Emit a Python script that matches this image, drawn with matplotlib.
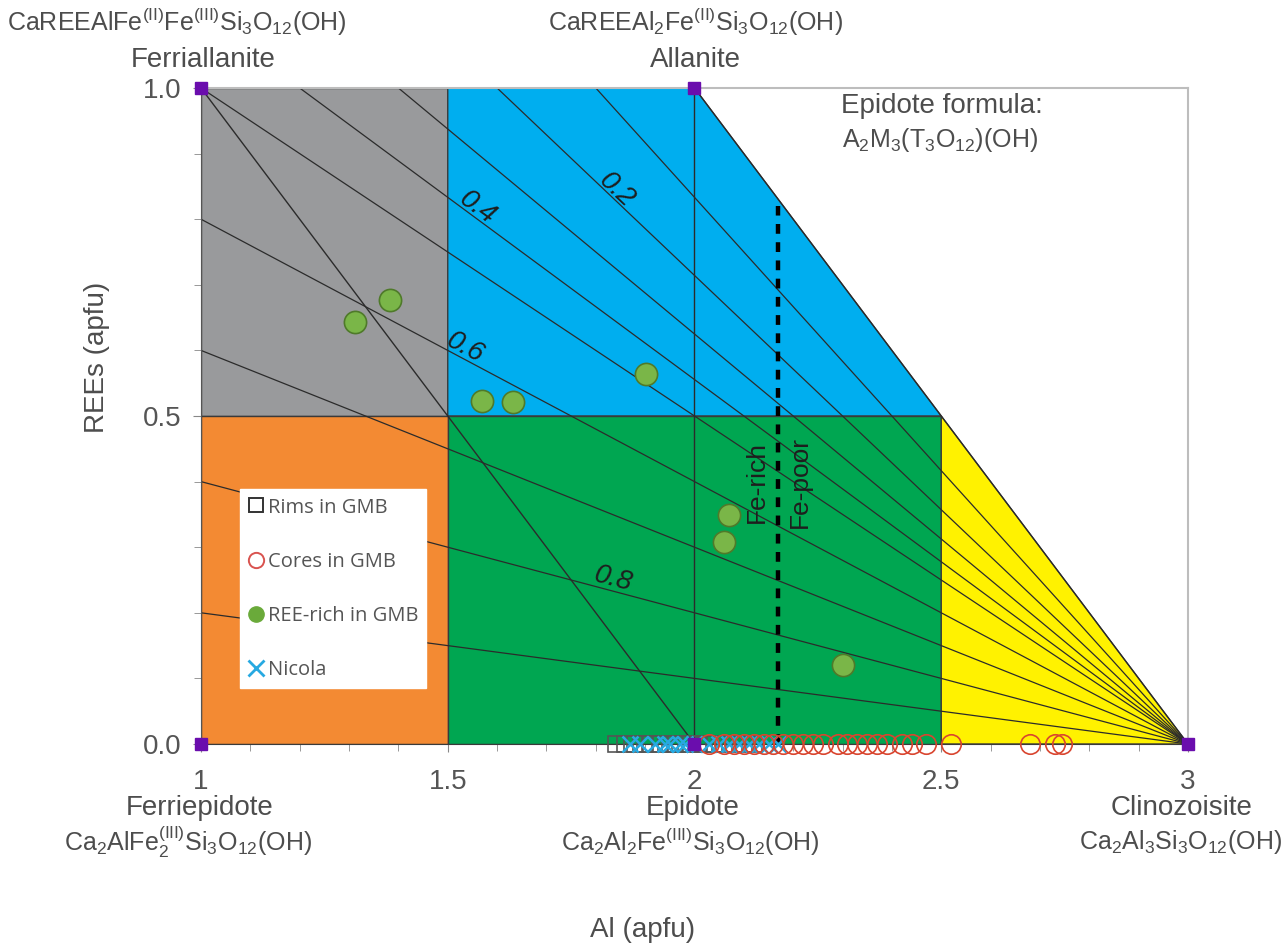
import numpy as np
import matplotlib
matplotlib.use("Agg")
import matplotlib.pyplot as plt
from matplotlib.lines import Line2D
from matplotlib.patches import Polygon

plt.rcParams['font.family'] = ['Liberation Sans', 'DejaVu Sans']
plt.rcParams['mathtext.fontset'] = 'custom'
plt.rcParams['mathtext.rm'] = 'Liberation Sans'
plt.rcParams['mathtext.it'] = 'Liberation Sans:italic'
plt.rcParams['mathtext.default'] = 'regular'

# Compositional fields (Al, REE vertices)
field_grey = [(1, 0.5), (1, 1), (1.5, 1), (1.5, 0.5)]
field_blue = [(1.5, 0.5), (1.5, 1), (2, 1), (2.5, 0.5)]
field_orange = [(1, 0), (1, 0.5), (1.5, 0.5), (1.5, 0)]
field_green = [(1.5, 0), (1.5, 0.5), (2.5, 0.5), (2.5, 0)]
field_yellow = [(2.5, 0), (2.5, 0.5), (3, 0)]

# Iso-ratio lines radiating from clinozoisite (3, 0)
fan_end_al = [2.0, 1.8, 1.6, 1.4, 1.2, 1.0, 1.0, 1.0, 1.0, 1.0]
fan_end_ree = [1.0, 1.0, 1.0, 1.0, 1.0, 1.0, 0.8, 0.6, 0.4, 0.2]
contour_text = ['0.2', '0.4', '0.6', '0.8']
contour_al = [1.843, 1.561, 1.535, 1.835]
contour_line = [2, 4, 6, 8]  # index into fan lines

# End-members
end_al = [1, 2, 1, 2, 3]
end_ree = [1, 1, 0, 0, 0]

# Data
ree_rich_al = [1.312, 1.383, 1.569, 1.632, 1.901, 2.070, 2.060, 2.301]
ree_rich_ree = [0.643, 0.677, 0.523, 0.521, 0.564, 0.349, 0.308, 0.120]
rims_al = [1.84, 1.86, 1.88, 1.90, 1.91, 1.93, 1.95, 1.96, 1.97, 1.99,
           2.01, 2.02, 2.04, 2.06, 2.08, 2.10, 2.12]
nicola_al = [1.87, 1.89, 1.92, 1.94, 1.95, 1.97, 1.98, 2.00, 2.03, 2.05,
             2.07, 2.09, 2.11, 2.13, 2.15, 2.17]
cores_al = [2.03, 2.06, 2.08, 2.10, 2.12, 2.14, 2.16, 2.18, 2.20, 2.22,
            2.24, 2.26, 2.29, 2.31, 2.33, 2.35, 2.37, 2.39, 2.42, 2.44,
            2.47, 2.52, 2.68, 2.73, 2.745]

fe_split_al = 2.17
fe_split_top = 0.82

W, H = 1287, 947
fig = plt.figure(figsize=(W / 100, H / 100), dpi=100)
ax = fig.add_axes([201 / W, 1 - 744 / H, 987 / W, 656 / H])
ax.set_xlim(1, 3)
ax.set_ylim(0, 1)

edge = '#3a3a3a'
for verts, col in [(field_grey, '#999a9c'), (field_blue, '#00aeef'),
                   (field_orange, '#f38a33'), (field_green, '#00a651'),
                   (field_yellow, '#fff200')]:
    ax.add_patch(Polygon(verts, closed=True, facecolor=col, edgecolor=edge,
                         lw=1.0, zorder=1))

# fan lines
for xa, ya in zip(fan_end_al, fan_end_ree):
    ax.plot([3, xa], [0, ya], color='#2b2b2b', lw=0.9, zorder=2)
# epidote-ferriallanite join and Al=2 line
ax.plot([1, 2], [1, 0], color='#2b2b2b', lw=1.0, zorder=2)
ax.plot([2, 2], [0, 1], color='#2b2b2b', lw=1.0, zorder=2)

# contour labels, rotated along their fan line
for txt, xa, k in zip(contour_text, contour_al, contour_line):
    ex, ey = fan_end_al[k], fan_end_ree[k]
    slope = ey / (ex - 3)
    ya = slope * (xa - 3)
    ang = np.degrees(np.arctan(slope))
    rot = ax.transData.transform_angles(np.array([ang]), np.array([[xa, ya]]))[0]
    ax.text(xa, ya + 0.018, txt, rotation=rot, rotation_mode='anchor',
            ha='center', va='center', fontsize=20, style='italic',
            color='#1e1e1e', zorder=4)

# Fe-rich / Fe-poor divide
ax.plot([fe_split_al, fe_split_al], [0, fe_split_top], color='black', lw=3.2,
        ls=(0, (2.2, 1.9)), zorder=3)
ax.text(2.127, 0.40, 'Fe-rich', rotation=90, ha='center', va='center',
        fontsize=19, color='#1e1e1e', zorder=4)
ax.text(2.214, 0.40, 'Fe-poor', rotation=90, ha='center', va='center',
        fontsize=19, color='#1e1e1e', zorder=4)

# data points on the Al axis
ax.plot(rims_al, np.zeros(len(rims_al)), ls='none', marker='s', ms=11,
        mfc='none', mec='#555555', mew=1.2, zorder=5, clip_on=False)
ax.plot(nicola_al, np.zeros(len(nicola_al)), ls='none', marker='x', ms=11,
        mec='#27a9e1', mew=1.8, zorder=5, clip_on=False)
ax.plot(cores_al, np.zeros(len(cores_al)), ls='none', marker='o', ms=14,
        mfc='none', mec='#d9452f', mew=1.2, zorder=5, clip_on=False)
ax.plot(ree_rich_al, ree_rich_ree, ls='none', marker='o', ms=16,
        mfc='#7ab648', mec='#4f7a2a', mew=1.2, zorder=6)

ax.plot(end_al, end_ree, ls='none', marker='s', ms=9, color='#6a0dad',
        zorder=7, clip_on=False)

# axes styling
for s in ['top', 'right']:
    ax.spines[s].set_color('#bdbdbd')
    ax.spines[s].set_linewidth(1.5)
ax.spines['left'].set_color('#555555')
ax.spines['bottom'].set_color('#3a3a3a')
ax.set_xticks([1, 1.5, 2, 2.5, 3])
ax.set_xticklabels(['1', '1.5', '2', '2.5', '3'])
ax.set_yticks([0, 0.5, 1.0])
ax.set_yticklabels(['0.0', '0.5', '1.0'])
ax.set_xticks(np.arange(1, 3.01, 0.1), minor=True)
ax.set_yticks(np.arange(0, 1.01, 0.1), minor=True)
ax.tick_params(axis='both', which='major', labelsize=20, labelcolor='#555555',
               color='#888888', length=6, direction='out')
ax.tick_params(axis='both', which='minor', color='#888888', length=5,
               direction='out')
ax.tick_params(axis='x', pad=12)
ax.tick_params(axis='y', pad=8)

# legend
handles = [
    Line2D([], [], ls='none', marker='s', ms=10, mfc='none', mec='#333333', mew=1.4),
    Line2D([], [], ls='none', marker='o', ms=11, mfc='none', mec='#d9534f', mew=1.4),
    Line2D([], [], ls='none', marker='o', ms=11, mfc='#6aaa3a', mec='#6aaa3a'),
    Line2D([], [], ls='none', marker='x', ms=11, mec='#27a9e1', mew=2.0),
]
labels = ['Rims in GMB', 'Cores in GMB', 'REE-rich in GMB', 'Nicola']
leg = ax.legend(handles, labels, loc='upper left', bbox_to_anchor=(0.04, 0.388),
                borderaxespad=0, frameon=True, fancybox=False, framealpha=1,
                edgecolor='white', facecolor='white', handlelength=0.7,
                handletextpad=0.25, labelspacing=1.7, borderpad=0.4,
                prop={'family': ['Open Sans', 'DejaVu Sans'], 'size': 14.5})
for t in leg.get_texts():
    t.set_color('#555555')
leg.set_zorder(8)

# end-member labels
gray = '#4d4d4d'
def ftext(px, py, s, size=20, **kw):
    fig.text(px / W, 1 - py / H, s, ha='center', va='center', fontsize=size,
             color=gray, **kw)

ftext(177, 22, r'CaREEAlFe$^{(II)}$Fe$^{(III)}$Si$_3$O$_{12}$(OH)', size=18)
ftext(203, 60, 'Ferriallanite')
ftext(695, 22, r'CaREEAl$_2$Fe$^{(II)}$Si$_3$O$_{12}$(OH)', size=18)
ftext(695, 60, 'Allanite')
ftext(942, 106, 'Epidote formula:')
ftext(940, 140, r'A$_2$M$_3$(T$_3$O$_{12}$)(OH)', size=18)
ftext(200, 808, 'Ferriepidote')
ftext(188, 842, r'Ca$_2$AlFe$_2^{(III)}$Si$_3$O$_{12}$(OH)', size=18)
ftext(693, 808, 'Epidote')
ftext(690, 842, r'Ca$_2$Al$_2$Fe$^{(III)}$Si$_3$O$_{12}$(OH)', size=18)
ftext(1182, 808, 'Clinozoisite')
ftext(1181, 842, r'Ca$_2$Al$_3$Si$_3$O$_{12}$(OH)', size=18)
ftext(643, 930, 'Al (apfu)')
ftext(97, 357, 'REEs (apfu)', rotation=90)

fig.savefig('out.png', dpi=100)
